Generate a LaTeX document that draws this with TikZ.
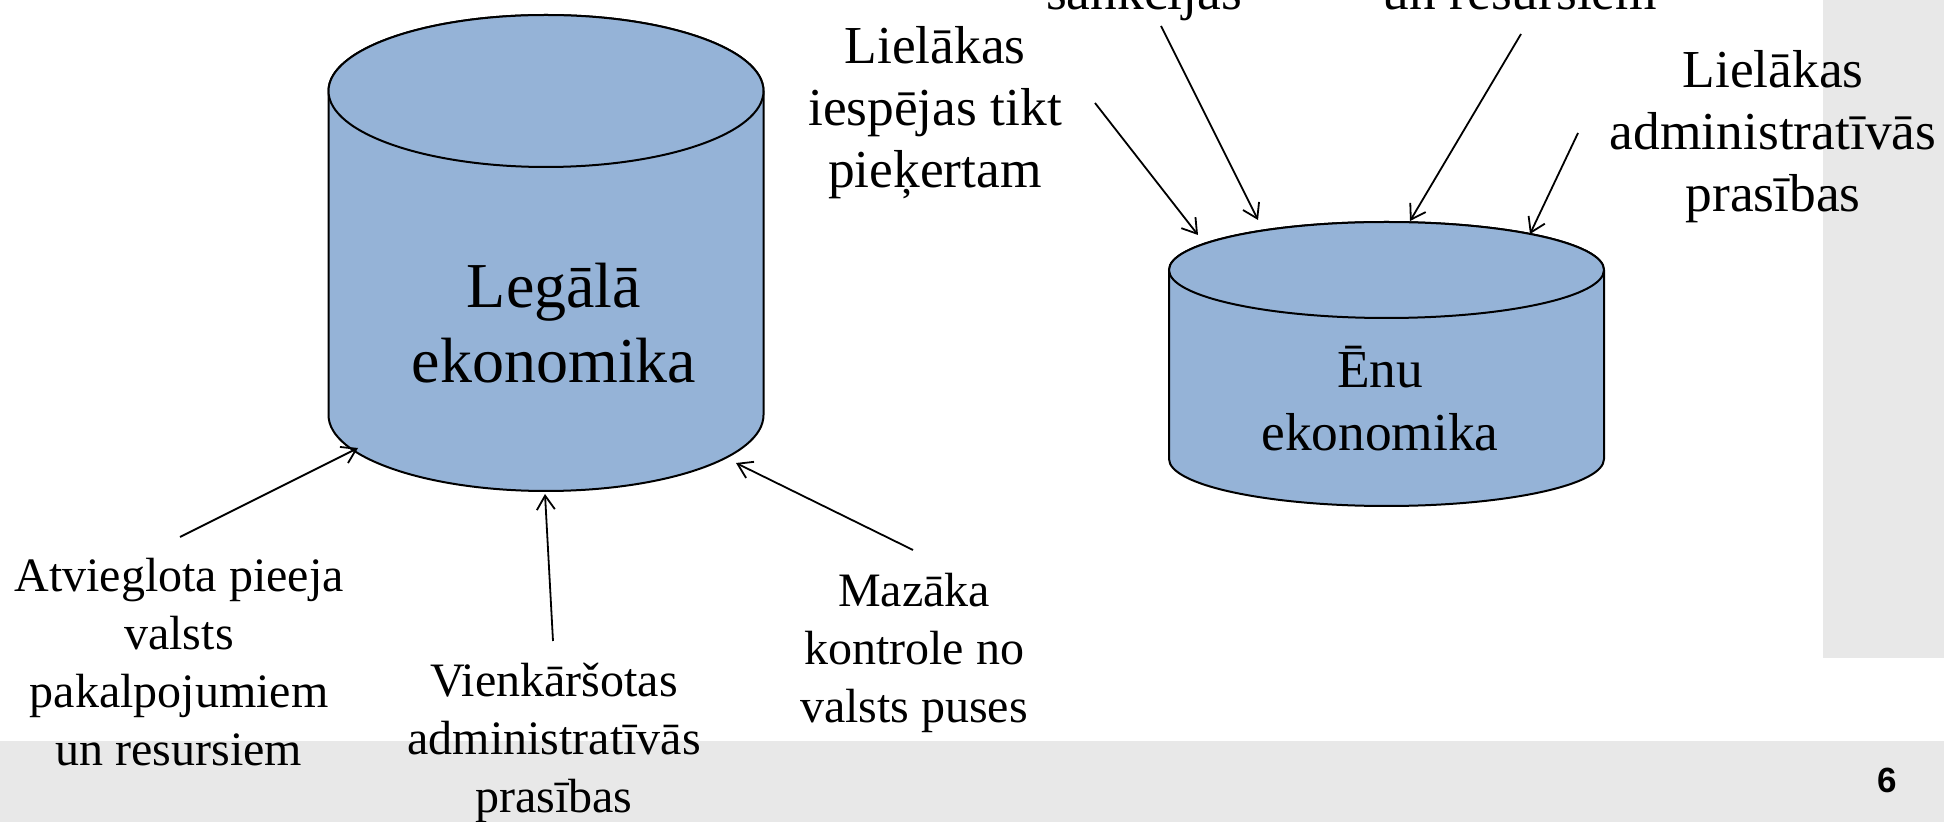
\documentclass[tikz,border=0pt]{standalone}
\usepackage{fontspec}
\setmainfont{Liberation Serif}
\newfontfamily\numfont{Liberation Sans}
\usetikzlibrary{arrows.meta}
\definecolor{cylblue}{HTML}{95B3D7}
\definecolor{bargray}{HTML}{E8E8E8}
\begin{document}
\begin{tikzpicture}[x=0.5pt,y=0.5pt,
  cylbody/.style={fill=cylblue, draw=black, line width=1pt},
  lbl/.style={align=center, inner sep=0pt, font=\fontsize{24}{29}\selectfont},
  toplbl/.style={align=center, inner sep=0pt, font=\fontsize{26.7}{31}\selectfont},
  arr/.style={-{Straight Barb[length=7pt,width=9pt]}, line width=0.9pt},
]
\useasboundingbox (0,0) rectangle (1944,-822);
\clip (0,0) rectangle (1944,-822);
% background bars
\fill[bargray] (1823,0) rectangle (1944,-658);
\fill[bargray] (0,-741) rectangle (1944,-822);

% left cylinder
\path[cylbody] (328.5,-91) -- (328.5,-415)
  arc[start angle=180,end angle=360,x radius=217.5,y radius=76]
  -- (763.5,-91)
  arc[start angle=0,end angle=180,x radius=217.5,y radius=76] -- cycle;
\path[cylbody] (546,-91) ellipse[x radius=217.5, y radius=76];
\node[align=center, inner sep=0pt, font=\fontsize{32}{37.5}\selectfont] (legal) at (554,-330.5)
  {\strut Legālā\\\strut ekonomika};

% right cylinder
\path[cylbody] (1169,-270) -- (1169,-459)
  arc[start angle=180,end angle=360,x radius=217.5,y radius=47]
  -- (1604,-270)
  arc[start angle=0,end angle=180,x radius=217.5,y radius=48] -- cycle;
\path[cylbody] (1386.5,-270) ellipse[x radius=217.5, y radius=48];
\node[align=center, inner sep=0pt, font=\fontsize{26.7}{31.5}\selectfont] (enu) at (1380,-406)
  {\strut Ēnu\\\strut ekonomika};

% bottom labels
\node[lbl] (atv) at (179,-667.4)
  {\strut Atvieglota pieeja\\\strut valsts\\\strut pakalpojumiem\\\strut un resursiem};
\node[lbl] (vienk) at (554,-743.4)
  {\strut Vienkāršotas\\\strut administratīvās\\\strut prasības};
\node[lbl] (maz) at (914,-653.4)
  {\strut Mazāka\\\strut kontrole no\\\strut valsts puses};

% top labels
\node[toplbl] (lielA) at (935,-113.6)
  {\strut Lielākas\\\strut iespējas tikt\\\strut pieķertam};
\node[toplbl] (lielB) at (1773,-137.6)
  {\strut Lielākas\\\strut administratīvās\\\strut prasības};
\node[toplbl, anchor=base] (sank) at (1144,-10) {sankcijas};
\node[toplbl, anchor=base] (unres) at (1520,-10) {un resursiem};

% page number
\node[font=\numfont\bfseries\fontsize{17.5}{20}\selectfont, anchor=base, inner sep=0pt] (pg) at (1887,-793) {6};

% arrow end points
\coordinate (a1s) at (180,-537);  \coordinate (a1e) at (358,-448);
\coordinate (a2s) at (553,-641);  \coordinate (a2e) at (545,-494);
\coordinate (a3s) at (913,-550);  \coordinate (a3e) at (736,-463);
\coordinate (b1s) at (1095,-103); \coordinate (b1e) at (1198,-235);
\coordinate (b2s) at (1161,-26);  \coordinate (b2e) at (1258,-220);
\coordinate (b3s) at (1521,-34);  \coordinate (b3e) at (1410,-221);
\coordinate (b4s) at (1578,-133); \coordinate (b4e) at (1530,-234);

\draw[arr] (a1s) -- (a1e);
\draw[arr] (a2s) -- (a2e);
\draw[arr] (a3s) -- (a3e);
\draw[arr] (b1s) -- (b1e);
\draw[arr] (b2s) -- (b2e);
\draw[arr] (b3s) -- (b3e);
\draw[arr] (b4s) -- (b4e);
\end{tikzpicture}
\end{document}
